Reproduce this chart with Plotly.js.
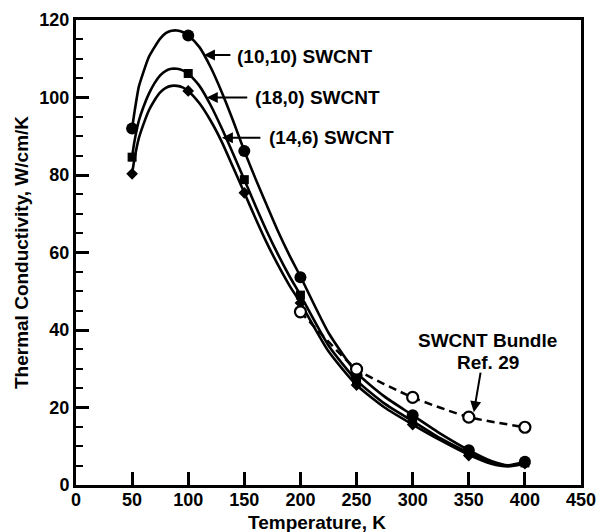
<!DOCTYPE html>
<html>
<head>
<meta charset="utf-8">
<script src="https://cdn.plot.ly/plotly-3.0.1.min.js"></script>
<style>html,body{margin:0;padding:0;background:#fff;}#chart{width:601px;height:532px;}</style>
</head>
<body>
<div id="chart"></div>
<script>
// Measured data points (temperature, K)
const tempPts = [50, 100, 150, 200, 250, 300, 350, 400];
const k1010Pts = [92, 116, 86.2, 53.6, 28.3, 18.0, 9.0, 6.0];
const k180Pts = [84.6, 106.2, 78.8, 49.0, 27.0, 16.8, 8.4, 5.7];
const k146Pts = [80.3, 101.7, 75.4, 47.0, 25.8, 15.6, 7.6, 5.5];
const bundleT = [200, 250, 300, 350, 400];
const bundleK = [44.7, 29.9, 22.6, 17.5, 14.9];

// Fitted curves
const curveT = [50, 52, 56, 60, 65, 70, 75, 80, 85, 90, 95, 100, 110, 120, 130, 140, 150, 160, 170, 180, 190, 200, 225, 250, 275, 300, 325, 350, 370, 385, 400];
const curve1010 = [92, 96, 102.8, 106.5, 110.5, 113, 115.2, 116.6, 117.2, 117.3, 116.9, 116, 113, 107.8, 101.3, 94, 86.2, 79, 72.2, 65.5, 59.4, 53.8, 39.3, 29, 22.8, 18, 13.2, 9, 6.2, 5.1, 6];
const curve180 = [84.6, 88.5, 94, 97.5, 101, 103.7, 105.7, 106.9, 107.4, 107.4, 107, 106.2, 103, 98, 92, 85.5, 78.8, 72, 65.5, 59.5, 54, 49, 36, 27, 21, 16.5, 12, 8.3, 5.8, 5, 5.7];
const curve146 = [80.3, 84, 89.5, 93, 96.7, 99.3, 101.3, 102.5, 103, 103, 102.6, 101.7, 98.5, 94, 88.5, 82, 75.4, 68.8, 62.5, 56.8, 51.6, 47, 34.5, 25.8, 20, 15.6, 11.5, 7.8, 5.5, 4.8, 5.5];

const FONT = 'Liberation Sans, Arial, Helvetica, sans-serif';
const solid = (y) => ({x: curveT, y: y, mode: 'lines', line: {color: '#000', width: 2.6, shape: 'spline', smoothing: 0.6}, hoverinfo: 'skip', showlegend: false});

const traces = [
  solid(curve1010), solid(curve180), solid(curve146),
  {x: bundleT, y: bundleK, mode: 'lines', line: {color: '#000', width: 2.5, dash: '8px,5px', shape: 'spline', smoothing: 0.5}, showlegend: false},
  {x: tempPts, y: k1010Pts, mode: 'markers', marker: {symbol: 'circle', size: 12, color: '#000'}, showlegend: false},
  {x: tempPts, y: k180Pts, mode: 'markers', marker: {symbol: 'square', size: 9, color: '#000'}, showlegend: false},
  {x: tempPts, y: k146Pts, mode: 'markers', marker: {symbol: 'diamond', size: 9, color: '#000'}, showlegend: false},
  {x: bundleT, y: bundleK, mode: 'markers', marker: {symbol: 'circle', size: 11, color: '#fff', line: {color: '#000', width: 2.2}}, showlegend: false}
];

const TF = {family: FONT, size: 19, color: '#000', weight: 'bold'};
const txt = (x, y, t, xa) => ({x: x, y: y, xref: 'x', yref: 'y', text: t, showarrow: false, xanchor: xa || 'left', yanchor: 'middle', font: TF});
const arr = (x, y, ax, ay) => ({x: x, y: y, xref: 'x', yref: 'y', text: '', showarrow: true, ax: ax, ay: ay, arrowhead: 2, arrowsize: 1.1, arrowwidth: 2, arrowcolor: '#000'});

const layout = {
  width: 601, height: 532,
  margin: {l: 76, r: 20, t: 20, b: 47},
  paper_bgcolor: '#fff', plot_bgcolor: '#fff',
  font: {family: FONT, size: 18, color: '#000', weight: 'bold'},
  xaxis: {
    range: [0, 450], dtick: 50, tick0: 0, ticks: 'inside', ticklen: 13, tickwidth: 3, tickcolor: '#000',
    showline: true, linewidth: 3, linecolor: '#000', mirror: true, showgrid: false, zeroline: false,
    ticklabelstandoff: -4,
    tickfont: {family: FONT, size: 18, color: '#000', weight: 'bold'}
  },
  yaxis: {
    range: [0, 120], dtick: 20, tick0: 0, ticks: 'inside', ticklen: 13, tickwidth: 3, tickcolor: '#000',
    minor: {dtick: 5, ticks: 'inside', ticklen: 7, tickwidth: 2, tickcolor: '#000', showgrid: false},
    showline: true, linewidth: 3, linecolor: '#000', mirror: true, showgrid: false, zeroline: false,
    tickfont: {family: FONT, size: 18, color: '#000', weight: 'bold'},
    title: {text: 'Thermal Conductivity, W/cm/K', font: TF, standoff: 6}
  },
  annotations: [
    arr(114, 111, 28, 0), txt(142, 110.5, '(10,10) SWCNT'),
    arr(116.5, 100, 42, 0), txt(157.5, 100, '(18,0) SWCNT'),
    arr(130, 89.6, 40, 0), txt(170, 89.8, '(14,6) SWCNT'),
    arr(354.5, 18.8, 7, -41),
    txt(367, 37.4, 'SWCNT Bundle', 'center'), txt(367, 31.7, 'Ref. 29', 'center'),
    {x: 215, xref: 'x', y: -0.0796, yref: 'paper', text: 'Temperature, K', showarrow: false, xanchor: 'center', yanchor: 'middle', borderpad: 0, font: TF}
  ]
};

Plotly.newPlot('chart', traces, layout, {displayModeBar: false, staticPlot: true});
</script>
</body>
</html>
